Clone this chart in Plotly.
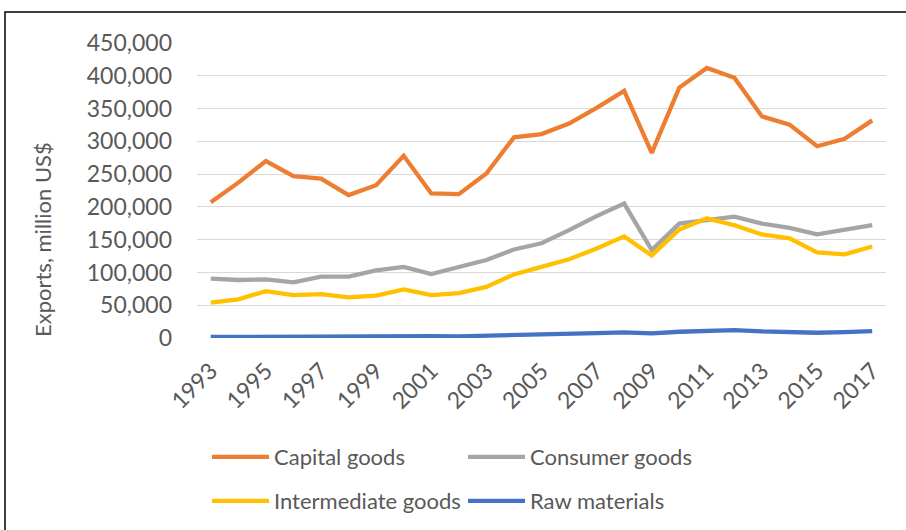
import plotly.graph_objects as go

years = list(range(1993, 2018))
capital_goods = [207000, 237000, 270000, 247000, 243000, 218000, 233000, 278000, 220500, 219500,
                 251000, 306000, 311000, 327000, 351000, 377000, 282500, 382000, 412000, 397000,
                 338000, 325500, 292500, 304000, 332000]
consumer_goods = [90500, 88500, 89500, 85000, 93500, 93500, 103000, 108500, 97500, 108500,
                  119000, 135000, 144500, 164500, 186000, 205000, 134000, 174500, 179000, 185000,
                  174500, 168000, 158000, 164500, 172000]
intermediate_goods = [54000, 59000, 71500, 65500, 67000, 62000, 64500, 74000, 65500, 68500,
                      78000, 97000, 108500, 120000, 136500, 155000, 126000, 165500, 182500, 172000,
                      158000, 152000, 130500, 127500, 139500]
raw_materials = [1500, 1800, 2000, 2500, 2600, 2500, 2600, 2800, 3000, 2500,
                 3200, 4000, 5000, 6500, 7500, 8500, 7000, 9500, 11000, 12000,
                 10000, 9000, 8000, 9000, 10500]
y_title = "Exports, million US$"

series = [
    ("Capital goods", capital_goods, "#ED7D31", "legend"),
    ("Consumer goods", consumer_goods, "#A5A5A5", "legend"),
    ("Intermediate goods", intermediate_goods, "#FFC000", "legend2"),
    ("Raw materials", raw_materials, "#4472C4", "legend2"),
]

FONT = "Lato, 'Open Sans', sans-serif"
TXT = "#595959"
FS = 23

# plot area in pixels
L, R, T, B = 197, 886, 43, 338
PW, PH = R - L, B - T


def px(x):
    return (x - L) / PW


def py(y):
    return (B - y) / PH


fig = go.Figure()
for name, vals, color, lg in series:
    fig.add_trace(go.Scatter(x=years, y=vals, name=name, mode="lines",
                             line=dict(color=color, width=4.3), legend=lg))

legend_common = dict(orientation="h", xanchor="left", yanchor="middle",
                     entrywidth=184, entrywidthmode="pixels", itemwidth=57,
                     font=dict(size=FS - 1, color=TXT), bgcolor="rgba(0,0,0,0)")

fig.update_layout(
    width=906, height=530,
    margin=dict(l=L, r=906 - R, t=T, b=530 - B, autoexpand=False),
    paper_bgcolor="white", plot_bgcolor="white",
    font=dict(family=FONT, size=FS, color=TXT),
    xaxis=dict(range=[1992.5, 2017.5], tickmode="array",
               tickvals=years[::2], ticktext=[str(y) for y in years[::2]],
               tickangle=-45, showgrid=False, zeroline=False, showline=False,
               ticks="", ticklabelstandoff=14, automargin=False,
               tickfont=dict(size=FS, color=TXT)),
    yaxis=dict(range=[0, 450000], dtick=50000, tickformat=",d",
               showgrid=True, gridcolor="#D9D9D9", gridwidth=1.3,
               zeroline=False, showline=False, ticks="", ticklabelstandoff=24,
               automargin=False, tickfont=dict(size=FS, color=TXT)),
    legend=dict(x=px(207), y=py(457), **legend_common),
    legend2=dict(x=px(207), y=py(501), **legend_common),
    showlegend=True,
)

fig.add_annotation(text=y_title, xref="paper", yref="paper", x=px(42), y=py(240),
                   textangle=-90, showarrow=False, xanchor="center", yanchor="middle",
                   font=dict(size=FS - 1, color=TXT))

fig.add_shape(type="rect", xref="paper", yref="paper",
              x0=px(5), x1=px(912), y0=py(540), y1=py(12),
              line=dict(color="black", width=1.5), fillcolor="rgba(0,0,0,0)", layer="below")

fig.write_html("out.html", config={"displayModeBar": False},
               post_script="document.body.style.margin='0px';document.body.style.overflow='hidden';")
